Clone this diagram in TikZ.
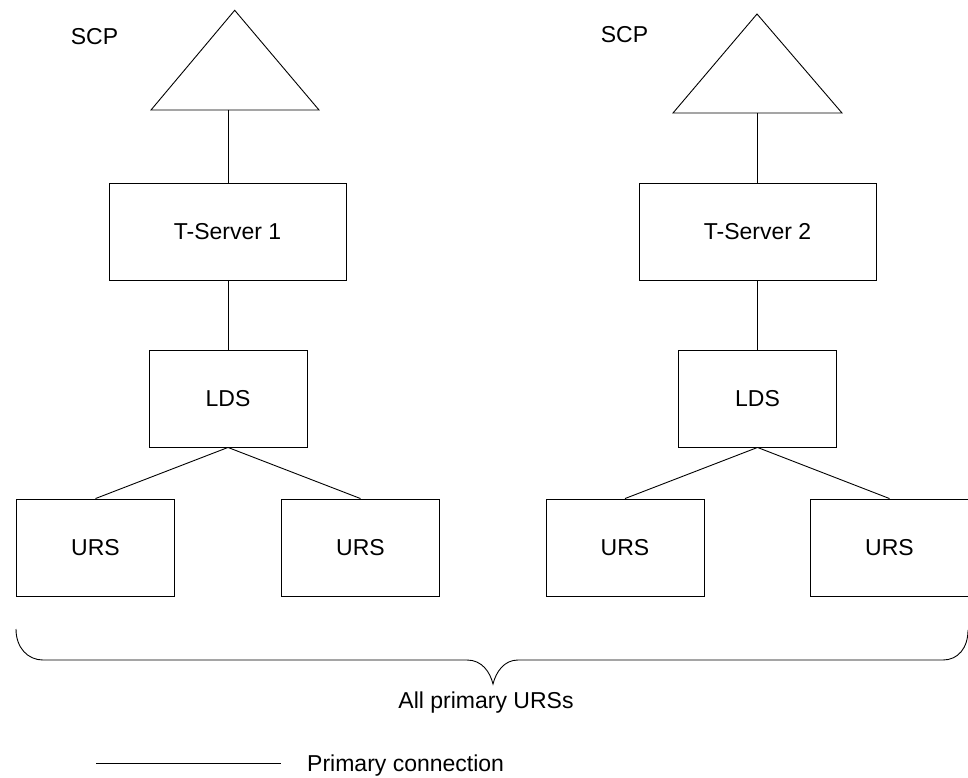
\documentclass[tikz,border=0pt]{standalone}
\usepackage{fontspec}
\setmainfont{Liberation Sans}
\begin{document}
\begin{tikzpicture}[x=1pt,y=-1pt,
  every node/.style={font=\fontsize{23}{27}\selectfont, inner sep=0pt},
  box/.style={draw, line width=0.9pt, minimum width=237pt, minimum height=97pt},
  sbox/.style={draw, line width=0.9pt, minimum width=158pt, minimum height=97pt},
  conn/.style={line width=0.9pt},
  line join=miter]
\useasboundingbox (0,0) rectangle (968,778);

% SCP triangles and labels
\node (scpl1) at (94.5,37) {SCP};
\node (scpl2) at (624.5,35) {SCP};
\draw[conn] (234.7,10.3) -- (319,110) -- (151,110) -- cycle;
\draw[conn] (757,14) -- (842,113) -- (673,113) -- cycle;
\coordinate (scp1) at (228,110);
\coordinate (scp2) at (757,113);

% Boxes
\node[box] (ts1) at (227.5,231.5) {T-Server 1};
\node[box] (ts2) at (757.5,231.5) {T-Server 2};
\node[sbox] (lds1) at (228,398.5) {LDS};
\node[sbox] (lds2) at (757.5,398.5) {LDS};
\node[sbox] (urs1) at (95.5,547.5) {URS};
\node[sbox] (urs2) at (360.5,547.5) {URS};
\node[sbox] (urs3) at (625,547.5) {URS};
\node[sbox] (urs4) at (889.5,547.5) {URS};

% Connectors
\draw[conn] (scp1) -- (scp1 |- ts1.north);
\draw[conn] (scp2) -- (scp2 |- ts2.north);
\draw[conn] (lds1.north -| scp1) -- (scp1 |- ts1.south);
\draw[conn] (ts2.south) -- (lds2.north);
\draw[conn] (lds1.south) -- (urs1.north);
\draw[conn] (lds1.south) -- (urs2.north);
\draw[conn] (lds2.south) -- (urs3.north);
\draw[conn] (lds2.south) -- (urs4.north);

% Brace
\draw[conn] (16,629) .. controls (16,648) and (28,660) .. (43,660)
  -- (467,660) .. controls (482,660) and (490,672) .. (493,684)
  .. controls (496,672) and (504,660) .. (518,660)
  -- (943,660) .. controls (958,660) and (968,648) .. (968,630);
\node (all) at (486,703) {All primary URSs};

% Legend
\coordinate (leg1) at (96,763);
\coordinate (leg2) at (281,763);
\draw[conn] (leg1) -- (leg2);
\node[anchor=west] (legt) at (307,766) {Primary connection};
\end{tikzpicture}
\end{document}
